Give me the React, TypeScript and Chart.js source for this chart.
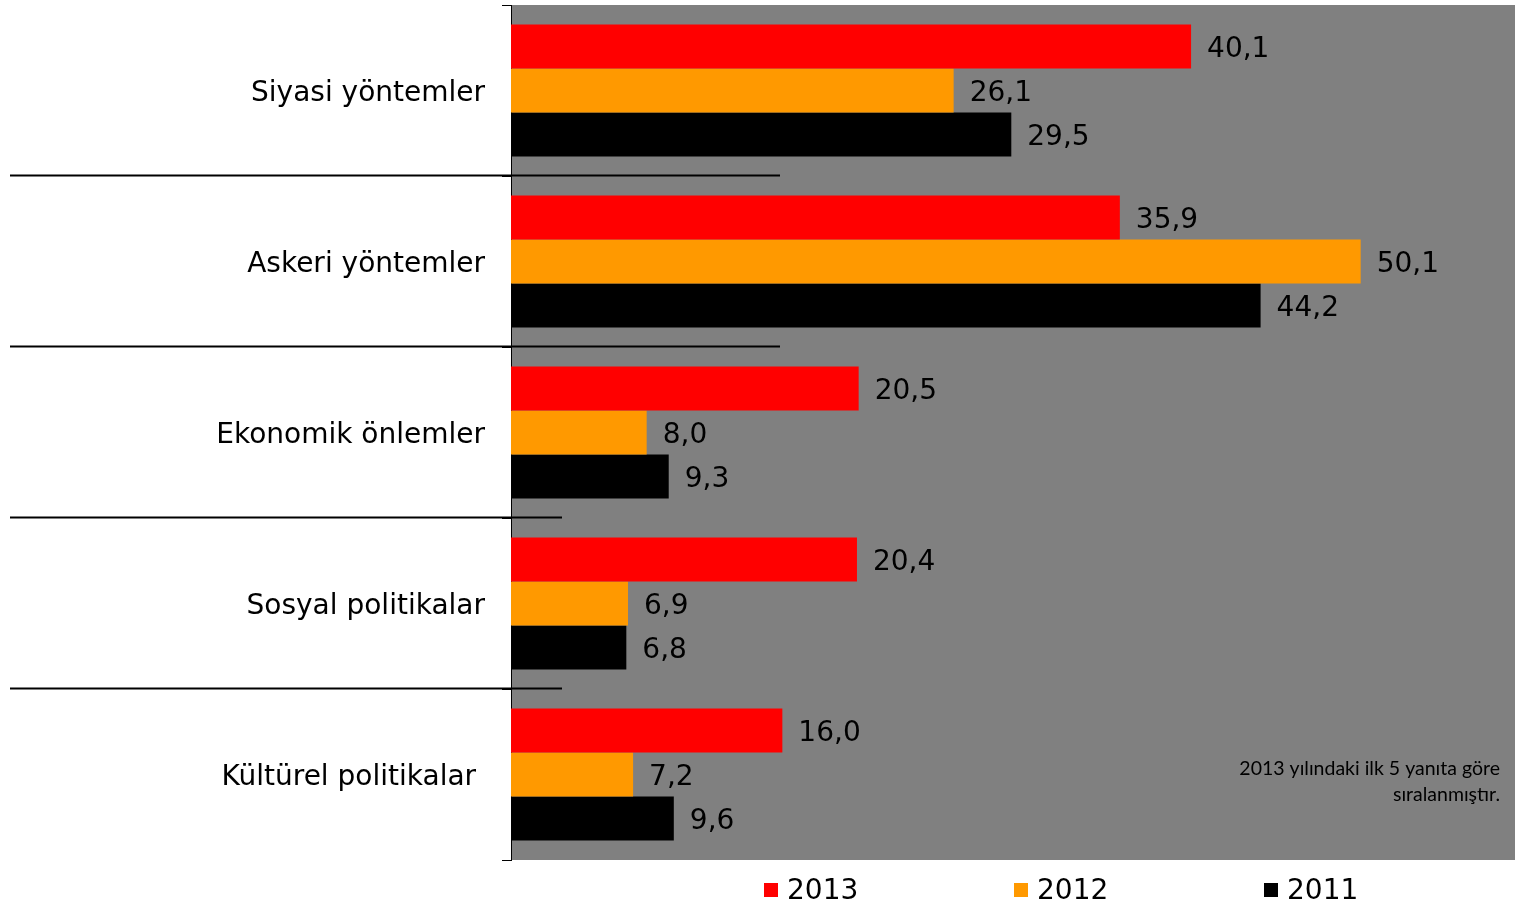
import React, { useEffect, useRef } from "react";
import { Chart, registerables } from "chart.js";
Chart.register(...registerables);

const categories = [
  "Siyasi yöntemler",
  "Askeri yöntemler",
  "Ekonomik önlemler",
  "Sosyal politikalar",
  "Kültürel politikalar ",
];
const seriesNames = ["2013", "2012", "2011"];
const values2013 = [40.1, 35.9, 20.5, 20.4, 16.0];
const values2012 = [26.1, 50.1, 8.0, 6.9, 7.2];
const values2011 = [29.5, 44.2, 9.3, 6.8, 9.6];
const seriesColors = ["#FF0000", "#FF9900", "#000000"];
const noteLines = ["2013 yılındaki ilk 5 yanıta göre", "sıralanmıştır."];
const separatorRightEnds = [780, 780, 562, 562];

const LABEL_FONT = "28px 'DejaVu Sans', Verdana, sans-serif";

const decorPlugin = {
  id: "decor",
  beforeDraw(chart: any) {
    const { ctx, chartArea } = chart;
    ctx.save();
    ctx.fillStyle = "#808080";
    ctx.fillRect(chartArea.left, chartArea.top, chartArea.right - chartArea.left, chartArea.bottom - chartArea.top);
    ctx.restore();
  },
  afterDraw(chart: any) {
    const { ctx, chartArea } = chart;
    const yScale = chart.scales.y;
    ctx.save();
    // category labels
    ctx.font = LABEL_FONT;
    ctx.fillStyle = "#000";
    ctx.textAlign = "right";
    ctx.textBaseline = "middle";
    chart.data.labels.forEach((lab: string, i: number) => {
      ctx.fillText(lab, chartArea.left - 26, yScale.getPixelForValue(i) + 3);
    });
    // separator lines between categories
    ctx.strokeStyle = "#000";
    ctx.lineWidth = 2;
    for (let i = 0; i < categories.length - 1; i++) {
      const y = Math.round((yScale.getPixelForValue(i) + yScale.getPixelForValue(i + 1)) / 2) - 0.5;
      ctx.beginPath();
      ctx.moveTo(10, y);
      ctx.lineTo(separatorRightEnds[i], y);
      ctx.stroke();
    }
    // data labels
    ctx.font = LABEL_FONT;
    ctx.fillStyle = "#000";
    ctx.textAlign = "left";
    ctx.textBaseline = "middle";
    chart.data.datasets.forEach((ds: any, di: number) => {
      const meta = chart.getDatasetMeta(di);
      meta.data.forEach((bar: any, i: number) => {
        const v = ds.data[i];
        const txt = v.toFixed(1).replace(".", ",");
        ctx.fillText(txt, bar.x + 16, bar.y + 3);
      });
    });
    // note
    ctx.font = "19.5px Lato, 'Open Sans', sans-serif";
    ctx.textAlign = "right";
    ctx.textBaseline = "middle";
    ctx.fillStyle = "#000";
    noteLines.forEach((line, i) => {
      ctx.fillText(line, 1500, 769 + i * 26);
    });
    // legend
    ctx.font = LABEL_FONT;
    ctx.textAlign = "left";
    ctx.textBaseline = "middle";
    chart.data.datasets.forEach((ds: any, di: number) => {
      const x = 764 + di * 250;
      const y = 890;
      ctx.fillStyle = ds.backgroundColor;
      ctx.fillRect(x, y - 7, 14, 14);
      ctx.fillStyle = "#000";
      ctx.fillText(ds.label, x + 23, y + 2);
    });
    ctx.restore();
  },
};

export default function App() {
  const ref = useRef<HTMLCanvasElement>(null);
  useEffect(() => {
    if (!ref.current) return;
    const chart = new Chart(ref.current, {
      type: "bar",
      data: {
        labels: categories,
        datasets: [values2013, values2012, values2011].map((d, i) => ({
          label: seriesNames[i],
          data: d,
          backgroundColor: seriesColors[i],
          borderWidth: 0,
          categoryPercentage: 0.772,
          barPercentage: 1,
        })),
      },
      options: {
        indexAxis: "y",
        animation: false,
        responsive: false,
        maintainAspectRatio: false,
        layout: { padding: { top: 5, bottom: 42, left: 0, right: 0 } },
        plugins: { legend: { display: false }, tooltip: { enabled: false } },
        scales: {
          x: { display: false, min: 0, max: 59.2 },
          y: {
            afterFit(scale: any) {
              scale.width = 511;
            },
            border: { display: true, color: "#000", width: 1 },
            grid: { display: true, drawOnChartArea: false, tickLength: 9, color: "#000", offset: true },
            ticks: { display: false },
          },
        },
      },
      plugins: [decorPlugin],
    });
    return () => chart.destroy();
  }, []);
  return (
    <div style={{ position: "absolute", left: 0, top: 0 }}>
      <canvas ref={ref} width={1515} height={902} style={{ width: 1515, height: 902, display: "block" }} />
    </div>
  );
}
